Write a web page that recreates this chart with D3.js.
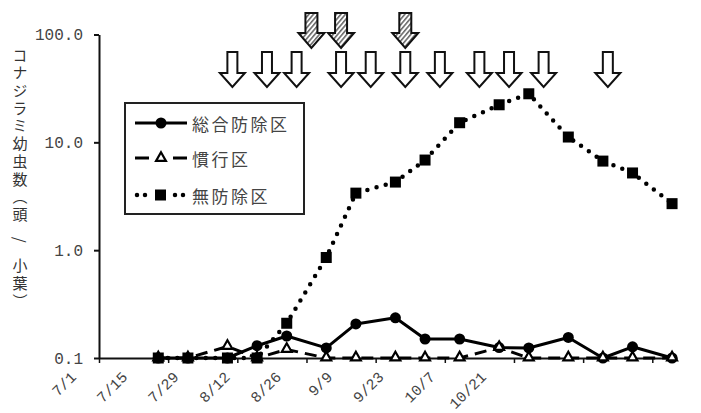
<!DOCTYPE html>
<html><head><meta charset="utf-8">
<script src="https://cdn.jsdelivr.net/npm/d3@7"></script>
<style>body{margin:0;background:#fff} svg{display:block}</style>
</head><body>
<svg id="c" width="701" height="413"></svg>
<script>
// ---- data ----
const sampleDates = ["07-13","07-19","07-27","08-02","08-08","08-16","08-22","08-30","09-05","09-12","09-20","09-26","10-04","10-11","10-17","10-25"];
const seriesNames = ["総合防除区","慣行区","無防除区"];
const sogo   = [0.1,0.1,0.1,0.13,0.16,0.124,0.207,0.236,0.15,0.15,0.125,0.124,0.155,0.1,0.127,0.1];
const kanko  = [0.1,0.1,0.128,0.1,0.12,0.1,0.1,0.1,0.1,0.1,0.125,0.1,0.1,0.1,0.1,0.1];
const mubojo = [0.1,0.1,0.1,0.1,0.21,0.855,3.38,4.28,6.85,15.2,22.3,28.2,11.2,6.7,5.2,2.7];
const xTickLabels = ["7/1","7/15","7/29","8/12","8/26","9/9","9/23","10/7","10/21"];
const yTickValues = [0.1,1,10,100];
const yTickLabels = ["0.1","1.0","10.0","100.0"];
const sprayDates = ["07-28","08-04","08-10","08-19","08-25","09-01","09-08","09-16","09-22","09-29","10-12"];
const bioDates = ["08-13","08-19","09-01"];
const yTitleParts = ["コナジラミ幼虫数（頭", "/", "小葉）"];
const xDomain = ["07-01","10-26"];

// ---- setup ----
const pd = d3.timeParse("%m-%d");
const pl = d3.timeParse("%m/%d");
const svg = d3.select("#c");
svg.append("rect").attr("width",701).attr("height",413).attr("fill","#fff");

const x = d3.scaleTime().domain(xDomain.map(pd)).range([99, 677]);
const y = d3.scaleLog().domain([0.1,100]).range([358, 34.5]);

// hatch pattern
const defs = svg.append("defs");
const pat = defs.append("pattern").attr("id","hatch").attr("patternUnits","userSpaceOnUse")
  .attr("width",3.5).attr("height",3.5).attr("patternTransform","rotate(40)");
pat.append("rect").attr("width",3.5).attr("height",3.5).attr("fill","#fff");
pat.append("line").attr("x1",0.8).attr("y1",0).attr("x2",0.8).attr("y2",3.5).attr("stroke","#555").attr("stroke-width",1.4);

// ---- axes ----
const yAxis = d3.axisLeft(y).tickValues(yTickValues).tickFormat((d,i)=>yTickLabels[i]).tickSize(5).tickSizeOuter(0).tickPadding(11);
const gy = svg.append("g").attr("transform","translate(99,0)").call(yAxis);
gy.select(".domain").attr("stroke","#111").attr("stroke-width",2);
gy.selectAll(".tick line").attr("stroke","#111").attr("stroke-width",2);
gy.selectAll(".tick text").attr("font-family","'Liberation Mono', monospace").attr("font-size",16).attr("fill","#444");

const xAxis = d3.axisBottom(x).tickValues(xTickLabels.map(pl)).tickFormat("").tickSize(5).tickSizeOuter(0);
const gx = svg.append("g").attr("transform","translate(0,358)").call(xAxis);
gx.select(".domain").attr("stroke","#111").attr("stroke-width",1.8);
gx.selectAll(".tick line").attr("stroke","#111").attr("stroke-width",1.5);

// x labels (rotated)
const xl = d3.scalePoint().domain(xTickLabels).range([77, 487]);
svg.append("g").selectAll("text").data(xTickLabels).join("text")
  .attr("transform", d=>`translate(${xl(d)},378) rotate(-45)`)
  .attr("text-anchor","end")
  .attr("font-family","'Liberation Mono', monospace").attr("font-size",15).attr("fill","#444")
  .text(d=>d);

// y title, vertical writing
const tt = svg.append("text").attr("x",20).attr("y",47.5)
  .attr("font-family","'Noto Sans CJK JP', sans-serif").attr("font-size",15).attr("fill","#333")
  .attr("letter-spacing",2.7)
  .style("writing-mode","vertical-rl").style("text-orientation","mixed");
tt.append("tspan").text(yTitleParts[0]);
tt.append("tspan").attr("dy",12.3).text(yTitleParts[1]);
tt.append("tspan").attr("dy",12.3).text(yTitleParts[2]);

// ---- series ----
const mk = arr => sampleDates.map((d,i)=>({date:pd(d), v:arr[i]}));
const line = d3.line().x(d=>x(d.date)).y(d=>y(d.v));
const S1 = mk(sogo), S2 = mk(kanko), S3 = mk(mubojo);

// 総合防除区
svg.append("path").datum(S1).attr("d",line).attr("fill","none").attr("stroke","#000").attr("stroke-width",3).attr("stroke-linejoin","round");
svg.append("g").selectAll("circle").data(S1).join("circle").attr("cx",d=>x(d.date)).attr("cy",d=>y(d.v)).attr("r",5.5).attr("fill","#000");

// 慣行区
svg.append("path").datum(S2).attr("d",line).attr("fill","none").attr("stroke","#000").attr("stroke-width",3).attr("stroke-dasharray","12,7");
const tri = d3.symbol(d3.symbolTriangle, 42);
svg.append("g").selectAll("path").data(S2).join("path").attr("d",tri)
  .attr("transform",d=>`translate(${x(d.date)},${y(d.v)-0.5})`).attr("fill","#fff").attr("stroke","#000").attr("stroke-width",2.2);

// 無防除区
svg.append("path").datum(S3).attr("d",line).attr("fill","none").attr("stroke","#000").attr("stroke-width",4.5).attr("stroke-dasharray","0,9.5").attr("stroke-linecap","round");
svg.append("g").selectAll("rect").data(S3).join("rect").attr("x",d=>x(d.date)-5.5).attr("y",d=>y(d.v)-5.5).attr("width",11).attr("height",11).attr("fill","#000");

// ---- arrows ----
function arrowPath(cx, top, sw, hw, sl, hl){
  return `M${cx-sw},${top}H${cx+sw}V${top+sl}H${cx+hw}L${cx},${top+sl+hl}L${cx-hw},${top+sl}H${cx-sw}Z`;
}
svg.append("g").selectAll("path").data(sprayDates).join("path")
  .attr("d", d=>arrowPath(x(pd(d)), 52, 5, 12.5, 21, 14))
  .attr("fill","#fff").attr("stroke","#111").attr("stroke-width",2).attr("stroke-linejoin","miter");
svg.append("g").selectAll("path").data(bioDates).join("path")
  .attr("d", d=>arrowPath(x(pd(d)), 13, 6, 13, 20, 15))
  .attr("fill","url(#hatch)").attr("stroke","#111").attr("stroke-width",2);

// ---- legend ----
const lg = svg.append("g");
lg.append("rect").attr("x",125).attr("y",103).attr("width",179).attr("height",111).attr("fill","#fff").attr("stroke","#222").attr("stroke-width",2);
const rowsY = [123,158,195];
lg.append("line").attr("x1",135).attr("x2",187).attr("y1",rowsY[0]).attr("y2",rowsY[0]).attr("stroke","#000").attr("stroke-width",3);
lg.append("circle").attr("cx",161).attr("cy",rowsY[0]).attr("r",5.5).attr("fill","#000");
lg.append("line").attr("x1",135).attr("x2",187).attr("y1",rowsY[1]).attr("y2",rowsY[1]).attr("stroke","#000").attr("stroke-width",3).attr("stroke-dasharray","14,24");
lg.append("path").attr("d",tri).attr("transform",`translate(161,${rowsY[1]})`).attr("fill","#fff").attr("stroke","#000").attr("stroke-width",2.2);
lg.append("line").attr("x1",137).attr("x2",185).attr("y1",rowsY[2]).attr("y2",rowsY[2]).attr("stroke","#000").attr("stroke-width",4.5).attr("stroke-linecap","round").attr("stroke-dasharray","0,8,0,30,0,8,0,100");
lg.append("rect").attr("x",155).attr("y",rowsY[2]-5.5).attr("width",11).attr("height",11).attr("fill","#000");
lg.selectAll("text.l").data(seriesNames).join("text").attr("class","l")
  .attr("x",192).attr("y",(d,i)=>rowsY[i]).attr("dominant-baseline","central")
  .attr("font-family","'Noto Sans CJK JP', sans-serif").attr("font-size",17).attr("letter-spacing",2.5).attr("fill","#444")
  .text(d=>d);
</script>
</body></html>
